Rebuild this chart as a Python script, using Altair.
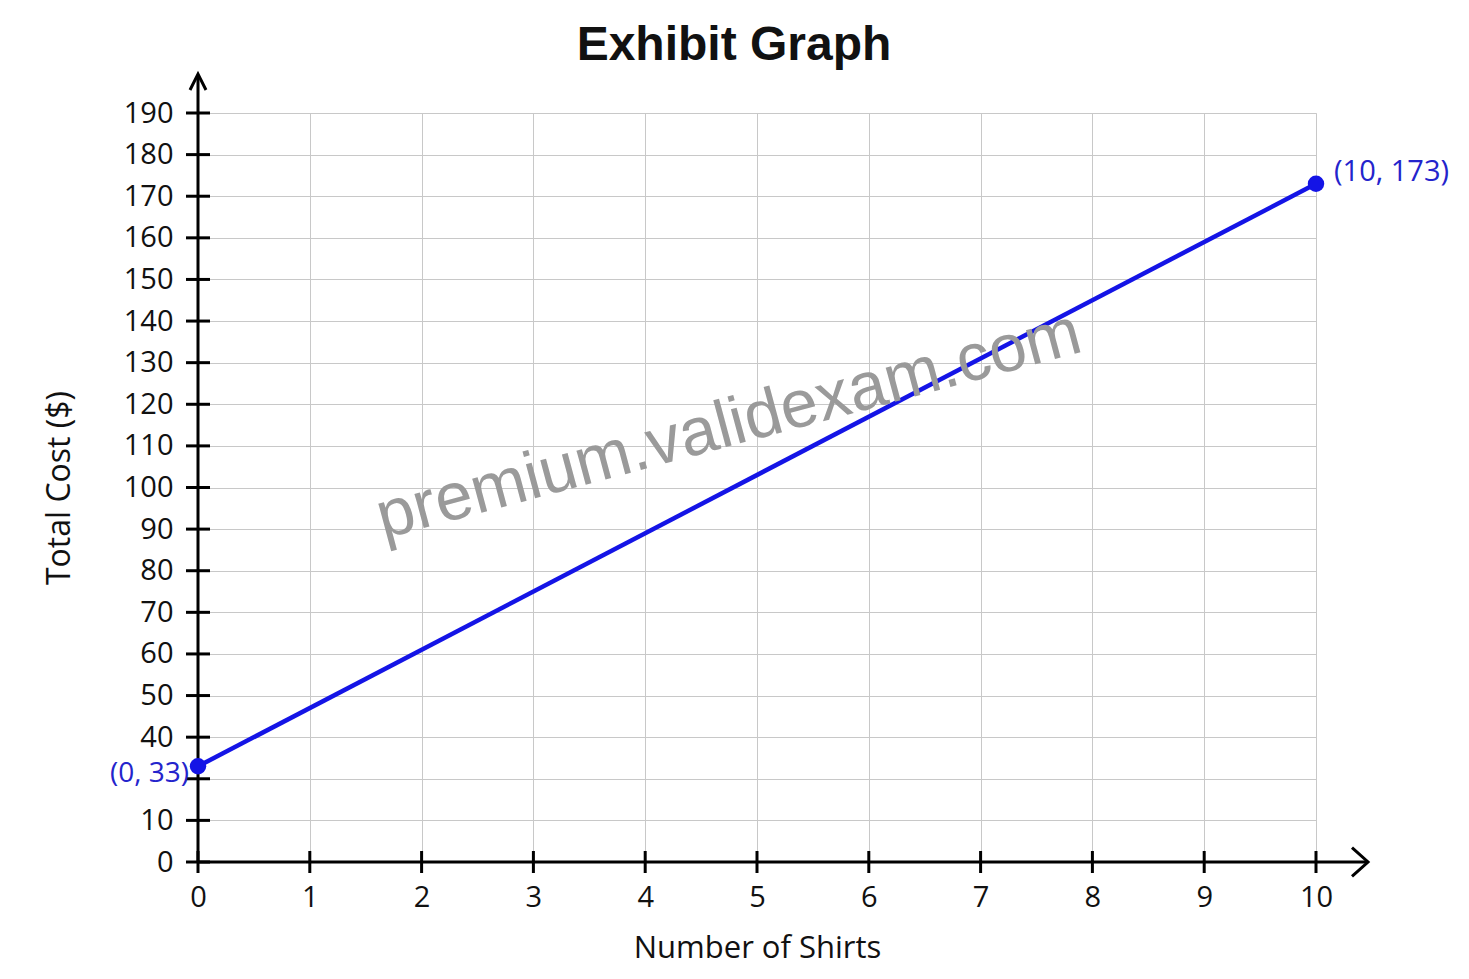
import altair as alt
import pandas as pd

# ---- data ----
shirts = [0, 10]
cost = [33, 173]
x_tick_values = [0, 1, 2, 3, 4, 5, 6, 7, 8, 9, 10]
y_tick_values = [10, 20, 30, 40, 50, 60, 70, 80, 90, 100, 110, 120, 130, 140, 150, 160, 170, 180, 190]
y_tick_labels = ["0", "10", "", "40", "50", "60", "70", "80", "90", "100", "110", "120",
                 "130", "140", "150", "160", "170", "180", "190"]
title_text = "Exhibit Graph"
x_title = "Number of Shirts"
y_title = "Total Cost ($)"
watermark_text = "premium.validexam.com"

W, H = 1118, 749
BLUE = "#1414e6"
LABEL_BLUE = "#2424cc"
FONT = "Open Sans"

points = pd.DataFrame({"shirts": shirts, "cost": cost})
one = pd.DataFrame({"k": [0]})
yticks_df = pd.DataFrame({"v": y_tick_values})
xticks_df = pd.DataFrame({"v": x_tick_values})

label_expr = "datum.label"
for v, l in reversed(list(zip(y_tick_values, y_tick_labels))):
    label_expr = f"datum.value == {v} ? '{l}' : (" + label_expr + ")"

xs = alt.Scale(domain=[0, 10], nice=False, zero=False)
ys = alt.Scale(domain=[10, 190], nice=False, zero=False)

x_axis = alt.Axis(values=x_tick_values, grid=True, gridColor="#c8c8c8", gridWidth=1,
                  ticks=False, domain=False, labelFont=FONT, labelFontSize=29,
                  labelColor="#111111", labelPadding=21, labelFlush=False,
                  labelOverlap=False, labelBound=False,
                  title=x_title, titleFont=FONT, titleFontSize=31, titleFontWeight="normal",
                  titleColor="#111111", titleX=559, titleY=95, titleBaseline="alphabetic")
y_axis = alt.Axis(values=y_tick_values, labelExpr=label_expr, grid=True, gridColor="#c8c8c8",
                  gridWidth=1, ticks=False, domain=False, labelFont=FONT, labelFontSize=29,
                  labelColor="#111111", labelPadding=25, labelFlush=False,
                  labelOverlap=False, labelBound=False,
                  title=y_title, titleFont=FONT, titleFontSize=32, titleFontWeight="normal",
                  titleColor="#111111", titleAngle=270, titleX=-129, titleY=374.5,
                  titleBaseline="alphabetic")

X = alt.X("shirts:Q", scale=xs, axis=x_axis)
Y = alt.Y("cost:Q", scale=ys, axis=y_axis)

line = alt.Chart(points).mark_line(color=BLUE, strokeWidth=4.5).encode(x=X, y=Y)

dots = alt.Chart(points).mark_circle(size=270, color=BLUE, opacity=1).encode(x=X, y=Y)

lab_base = alt.Chart(points).transform_calculate(
    lbl="'(' + datum.shirts + ', ' + datum.cost + ')'"
)
lab_left = lab_base.transform_filter("datum.shirts == 0").mark_text(
    align="right", baseline="middle", dx=-9, dy=8, font=FONT, fontSize=28, color=LABEL_BLUE
).encode(x=X, y=Y, text="lbl:N")
lab_right = lab_base.transform_filter("datum.shirts == 10").mark_text(
    align="left", baseline="middle", dx=18, dy=-12, font=FONT, fontSize=29, color=LABEL_BLUE
).encode(x=X, y=Y, text="lbl:N")

# axis lines with arrows
y_line = alt.Chart(one).mark_rule(color="black", strokeWidth=3).encode(
    x=alt.value(0), y=alt.value(-38), y2=alt.value(H))
x_line = alt.Chart(one).mark_rule(color="black", strokeWidth=3).encode(
    x=alt.value(0), x2=alt.value(1169), y=alt.value(H))
y_arrow = alt.Chart(one).mark_point(shape="M-0.5,1L0,0L0.5,1", size=1024, filled=False,
                                    color="black", strokeWidth=3, opacity=1).encode(
    x=alt.value(0), y=alt.value(-39))
x_arrow = alt.Chart(one).mark_point(shape="M-1,-0.9L0,0L-1,0.9", size=1024, filled=False,
                                    color="black", strokeWidth=3, opacity=1).encode(
    x=alt.value(1170), y=alt.value(H))

y_ticks = alt.Chart(yticks_df).mark_tick(orient="horizontal", size=24, thickness=3,
                                         color="black", opacity=1).encode(
    y=alt.Y("v:Q", scale=ys, axis=y_axis), x=alt.value(0))
x_ticks = alt.Chart(xticks_df).mark_tick(orient="vertical", size=22, thickness=3,
                                         color="black", opacity=1).encode(
    x=alt.X("v:Q", scale=xs, axis=x_axis), y=alt.value(H))

watermark = alt.Chart(one).mark_text(
    text=watermark_text, angle=345, fontSize=67, font="Liberation Sans", color="#9a9a9a",
    align="center", baseline="alphabetic"
).encode(x=alt.value(536), y=alt.value(332))

title = alt.Chart(one).mark_text(
    text=title_text, font="Liberation Sans", fontSize=48, fontWeight="bold", color="#111111",
    align="center", baseline="alphabetic"
).encode(x=alt.value(536), y=alt.value(-53))

chart = alt.layer(
    line, y_line, x_line, y_ticks, x_ticks, dots, lab_left, lab_right, watermark,
    y_arrow, x_arrow, title
).properties(
    width=W, height=H,
    padding={"left": 190, "top": 105, "right": 140, "bottom": 108},
    autosize=alt.AutoSizeParams(type="none"),
).configure_view(stroke=None).configure(background="white")

chart.save("out.html", embed_options={"renderer": "svg", "actions": False})
